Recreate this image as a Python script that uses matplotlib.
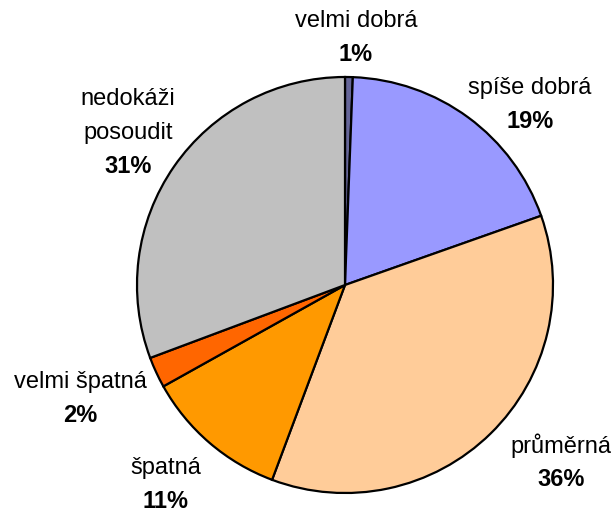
import numpy as np
import matplotlib.pyplot as plt

# survey answers, clockwise from 12 o'clock
categories = ['velmi dobrá', 'spíše dobrá', 'průměrná', 'špatná',
              'velmi špatná', 'nedokáži\nposoudit']
shares = [0.6, 19.0, 36.1, 11.2, 2.4, 30.7]
pct_labels = ['1%', '19%', '36%', '11%', '2%', '31%']
colors = ['#666699', '#9999FF', '#FFCC99', '#FF9900', '#FF6600', '#C0C0C0']

# label block centres (pie radius = 1, centre = 0,0)
label_pos = [(0.053, 1.19), (0.889, 0.865), (1.038, -0.853),
             (-0.861, -0.962), (-1.274, -0.546), (-1.043, 0.731)]

plt.rcParams['font.family'] = ['Liberation Sans', 'DejaVu Sans']

fig = plt.figure(figsize=(6.15, 5.13), dpi=100)
R = 208
cx, cy = 345, 285
ax = fig.add_axes([(cx - R) / 615, (513 - cy - R) / 513, 2 * R / 615, 2 * R / 513])

ax.pie(shares, colors=colors, startangle=90, counterclock=False, radius=1,
       wedgeprops=dict(edgecolor='black', linewidth=1.6))
ax.set_xlim(-1, 1)
ax.set_ylim(-1, 1)
ax.set_aspect('equal')
ax.axis('off')

fs = 17
step = 33.5 / R
for name, pct, (x, y) in zip(categories, pct_labels, label_pos):
    lines = name.split('\n')
    n = len(lines) + 1
    top = y + step * (n - 1) / 2
    for i, line in enumerate(lines):
        ax.text(x, top - step * i, line, ha='center', va='center',
                fontsize=fs, clip_on=False)
    ax.text(x, top - step * (n - 1), pct, ha='center', va='center',
            fontsize=fs, fontweight='bold', clip_on=False)

fig.savefig('out.png', dpi=100)
